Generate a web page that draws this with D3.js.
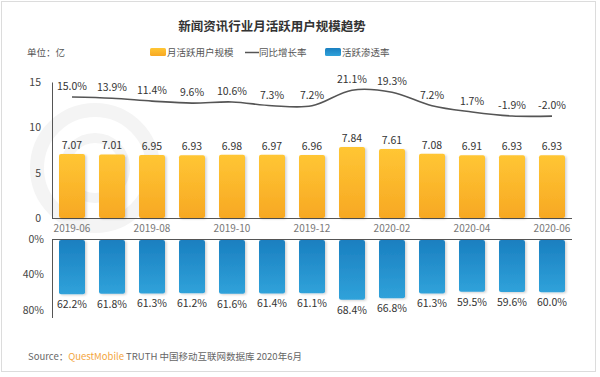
<!DOCTYPE html>
<html>
<head>
<meta charset="utf-8">
<script src="https://cdn.jsdelivr.net/npm/d3@7"></script>
<style>
  html, body { margin: 0; padding: 0; background: #fff; }
  svg { display: block; }
  text { font-family: "Noto Sans CJK SC", "Noto Sans", sans-serif; }
</style>
</head>
<body>
<div id="chart"></div>
<script>
// data
const months = ['2019-06', '2019-07', '2019-08', '2019-09', '2019-10', '2019-11', '2019-12',
  '2020-01', '2020-02', '2020-03', '2020-04', '2020-05', '2020-06'];
const mau = [7.07, 7.01, 6.95, 6.93, 6.98, 6.97, 6.96, 7.84, 7.61, 7.08, 6.91, 6.93, 6.93];
const yoy = [15.0, 13.9, 11.4, 9.6, 10.6, 7.3, 7.2, 21.1, 19.3, 7.2, 1.7, -1.9, -2.0];
const penetration = [62.2, 61.8, 61.3, 61.2, 61.6, 61.4, 61.1, 68.4, 66.8, 61.3, 59.5, 59.6, 60.0];
const mauTicks = [0, 5, 10, 15];
const penTicks = [0, 40, 80];
const monthTicks = months.filter((d, i) => i % 2 === 0);

const WIDTH = 600;
const HEIGHT = 377;
const PLOT = { LEFT: 52, RIGHT: 572 };

const svg = d3.select('#chart')
  .append('svg')
  .attr('width', WIDTH)
  .attr('height', HEIGHT);

const defs = svg.append('defs');

const gOrange = defs.append('linearGradient').attr('id', 'g-orange')
  .attr('x1', 0).attr('y1', 0).attr('x2', 0).attr('y2', 1);
gOrange.append('stop').attr('offset', '0%').attr('stop-color', '#ffc634');
gOrange.append('stop').attr('offset', '100%').attr('stop-color', '#f7a823');

const gBlue = defs.append('linearGradient').attr('id', 'g-blue')
  .attr('x1', 0).attr('y1', 0).attr('x2', 0).attr('y2', 1);
gBlue.append('stop').attr('offset', '0%').attr('stop-color', '#1a7fc0');
gBlue.append('stop').attr('offset', '100%').attr('stop-color', '#30a2da');

const shadow = defs.append('filter').attr('id', 'shadow')
  .attr('x', '-20%').attr('y', '-10%').attr('width', '150%').attr('height', '130%');
shadow.append('feDropShadow')
  .attr('dx', 1.5).attr('dy', 1).attr('stdDeviation', 1)
  .attr('flood-color', '#000').attr('flood-opacity', 0.18);

// frame
svg.append('rect')
  .attr('x', 1.5).attr('y', 1.5)
  .attr('width', 594).attr('height', 370)
  .attr('fill', '#fff')
  .attr('stroke', '#dcdcdc');

// faint logo watermark
const wm = svg.append('g').attr('fill', 'none').attr('stroke', '#f4f4f4');
wm.append('circle').attr('cx', 95).attr('cy', 168).attr('r', 58).attr('stroke-width', 14);
wm.append('circle').attr('cx', 95).attr('cy', 168).attr('r', 30).attr('stroke-width', 10);

// title
svg.append('text')
  .attr('x', 272).attr('y', 31)
  .attr('text-anchor', 'middle')
  .attr('font-size', 12.5)
  .attr('font-weight', 'bold')
  .attr('fill', '#333')
  .text('新闻资讯行业月活跃用户规模趋势');

svg.append('text')
  .attr('x', 27).attr('y', 56)
  .attr('font-size', 9.5)
  .attr('fill', '#555')
  .text('单位：亿');

// legend
const legend = svg.append('g').attr('font-size', 9.5).attr('fill', '#555');
legend.append('rect').attr('x', 150).attr('y', 48).attr('width', 16).attr('height', 8)
  .attr('rx', 1.5).attr('fill', 'url(#g-orange)');
legend.append('text').attr('x', 167).attr('y', 56).text('月活跃用户规模');
legend.append('line').attr('x1', 245).attr('x2', 259).attr('y1', 52.5).attr('y2', 52.5)
  .attr('stroke', '#555').attr('stroke-width', 1.5);
legend.append('text').attr('x', 259).attr('y', 56).text('同比增长率');
legend.append('rect').attr('x', 325).attr('y', 48).attr('width', 16).attr('height', 8)
  .attr('rx', 1.5).attr('fill', 'url(#g-blue)');
legend.append('text').attr('x', 342).attr('y', 56).text('活跃渗透率');

// scales
const xScale = d3.scaleBand()
  .domain(months)
  .range([PLOT.LEFT, PLOT.RIGHT])
  .paddingInner(0.35)
  .paddingOuter(0.175);

const yTop = d3.scaleLinear().domain([0, 15]).range([218, 82]);
const yPen = d3.scaleLinear().domain([0, 80]).range([239, 310]);
const yLine = d3.scaleLinear().domain([-5, 25]).range([119.5, 85.8]);

const cx = (d) => xScale(d) + xScale.bandwidth() / 2;

// top axis (MAU)
const axisTop = svg.append('g')
  .attr('transform', `translate(${PLOT.LEFT},0)`)
  .call(d3.axisLeft(yTop).tickValues(mauTicks).tickSize(0).tickPadding(11));
axisTop.select('.domain').attr('stroke', '#555');
axisTop.selectAll('text').attr('font-size', 10.5).attr('fill', '#444')
  .attr('font-family', '"Noto Sans CJK SC", sans-serif');

svg.append('line')
  .attr('x1', PLOT.LEFT).attr('x2', PLOT.RIGHT)
  .attr('y1', yTop(0) + 0.5).attr('y2', yTop(0) + 0.5)
  .attr('stroke', '#555');

// month labels
const axisX = svg.append('g')
  .attr('transform', `translate(0,${yTop(0)})`)
  .call(d3.axisBottom(xScale).tickValues(monthTicks).tickSize(0).tickPadding(7));
axisX.select('.domain').remove();
axisX.selectAll('text').attr('font-size', 10).attr('fill', '#777')
  .attr('font-family', '"Noto Sans CJK SC", sans-serif');

// bottom axis (penetration)
const axisBottom = svg.append('g')
  .attr('transform', `translate(${PLOT.LEFT},0)`)
  .call(d3.axisLeft(yPen).tickValues(penTicks).tickFormat((d) => d + '%').tickSize(0).tickPadding(8));
axisBottom.select('.domain').remove();
axisBottom.selectAll('text').attr('font-size', 10.5).attr('fill', '#444')
  .attr('font-family', '"Noto Sans CJK SC", sans-serif');

svg.append('line')
  .attr('x1', PLOT.LEFT + 0.5).attr('x2', PLOT.LEFT + 0.5)
  .attr('y1', yPen(0)).attr('y2', yPen(89))
  .attr('stroke', '#555');

svg.append('line')
  .attr('x1', PLOT.LEFT).attr('x2', PLOT.RIGHT)
  .attr('y1', yPen(0) + 0.5).attr('y2', yPen(0) + 0.5)
  .attr('stroke', '#555');

// MAU bars
svg.append('g')
  .selectAll('rect')
  .data(months)
  .enter()
  .append('rect')
  .attr('x', (d) => xScale(d))
  .attr('y', (d, i) => yTop(mau[i]))
  .attr('width', xScale.bandwidth())
  .attr('height', (d, i) => yTop(0) - yTop(mau[i]))
  .attr('rx', 2)
  .attr('fill', 'url(#g-orange)')
  .attr('filter', 'url(#shadow)');

svg.append('g')
  .selectAll('text')
  .data(months)
  .enter()
  .append('text')
  .attr('x', cx)
  .attr('y', (d, i) => yTop(mau[i]) - 5)
  .attr('text-anchor', 'middle')
  .attr('font-size', 10.5)
  .attr('fill', '#333')
  .text((d, i) => mau[i].toFixed(2));

// penetration bars
svg.append('g')
  .selectAll('rect')
  .data(months)
  .enter()
  .append('rect')
  .attr('x', (d) => xScale(d))
  .attr('y', yPen(0) + 1)
  .attr('width', xScale.bandwidth())
  .attr('height', (d, i) => yPen(penetration[i]) - yPen(0) - 1)
  .attr('rx', 2)
  .attr('fill', 'url(#g-blue)')
  .attr('filter', 'url(#shadow)');

svg.append('g')
  .selectAll('text')
  .data(months)
  .enter()
  .append('text')
  .attr('x', cx)
  .attr('y', (d, i) => yPen(penetration[i]) + 14)
  .attr('text-anchor', 'middle')
  .attr('font-size', 10.5)
  .attr('fill', '#333')
  .text((d, i) => penetration[i].toFixed(1) + '%');

// yoy line
const line = d3.line()
  .x((d) => cx(d))
  .y((d, i) => yLine(yoy[i]))
  .curve(d3.curveCatmullRom.alpha(0.5));

svg.append('path')
  .datum(months)
  .attr('d', line)
  .attr('fill', 'none')
  .attr('stroke', '#555')
  .attr('stroke-width', 1.6);

svg.append('g')
  .selectAll('text')
  .data(months)
  .enter()
  .append('text')
  .attr('x', cx)
  .attr('y', (d, i) => yLine(yoy[i]) - 7)
  .attr('text-anchor', 'middle')
  .attr('font-size', 10.5)
  .attr('fill', '#333')
  .text((d, i) => yoy[i].toFixed(1) + '%');

// source
const src = svg.append('text')
  .attr('x', 28).attr('y', 360)
  .attr('font-size', 9.5)
  .attr('fill', '#666');
src.append('tspan').text('Source：');
src.append('tspan').attr('fill', '#f3a53c').text('QuestMobile');
src.append('tspan').text(' TRUTH 中国移动互联网数据库 2020年6月');
</script>
</body>
</html>
